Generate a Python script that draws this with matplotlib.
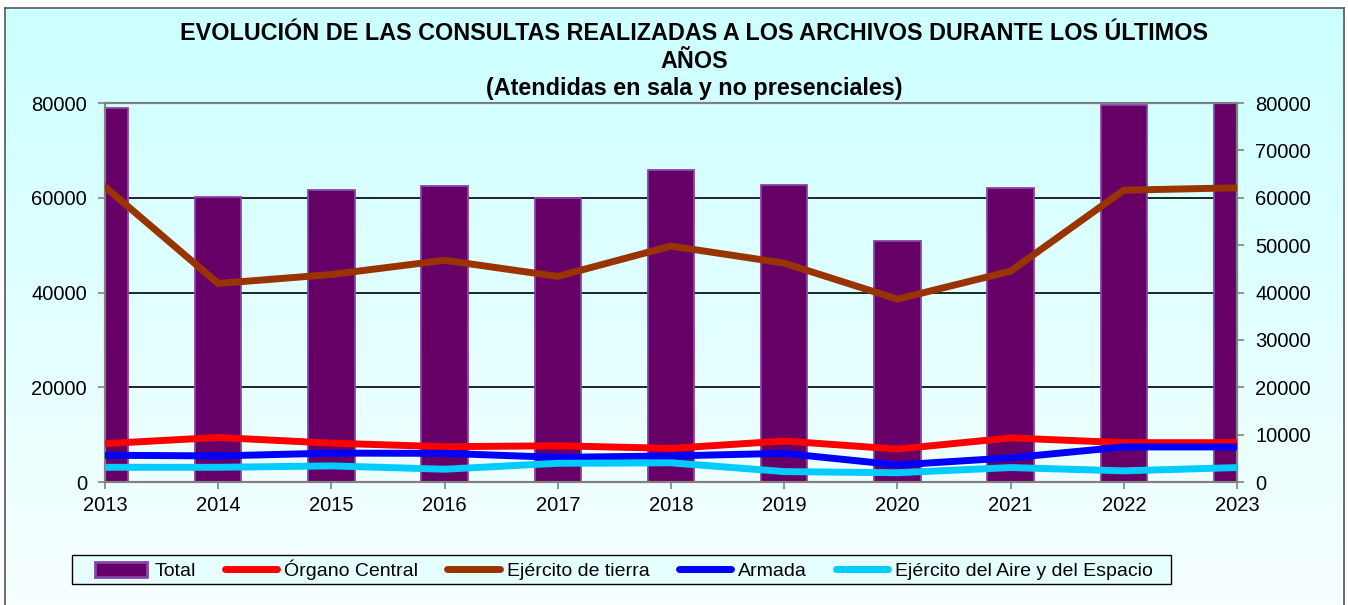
import numpy as np
import matplotlib.pyplot as plt
from matplotlib.patches import Rectangle
from matplotlib.lines import Line2D

plt.rcParams["font.family"] = ["Liberation Sans", "DejaVu Sans"]

years = [2013, 2014, 2015, 2016, 2017, 2018, 2019, 2020, 2021, 2022, 2023]
total = [79000, 60200, 61600, 62400, 60000, 65800, 62700, 50900, 62000, 79500, 86000]
organo_central = [8100, 9400, 8200, 7450, 7650, 7100, 8650, 6950, 9300, 8300, 8300]
ejercito_tierra = [62300, 41900, 43800, 46800, 43400, 49800, 46200, 38600, 44500, 61600, 62100]
armada = [5650, 5500, 6100, 6050, 5200, 5500, 6050, 3600, 5100, 7400, 7400]
ejercito_aire = [3100, 3100, 3400, 2700, 3950, 4050, 2200, 1950, 3050, 2350, 3050]

title = ("EVOLUCIÓN DE LAS CONSULTAS REALIZADAS A LOS ARCHIVOS DURANTE LOS ÚLTIMOS\n"
         "AÑOS\n(Atendidas en sala y no presenciales)")

W, H = 1348, 605
fig = plt.figure(figsize=(W / 100, H / 100), dpi=100)
fig.patch.set_facecolor("white")

# chart area with vertical gradient and gray frame
bg = fig.add_axes([5 / W, 0, (1344 - 5) / W, 1 - 8 / H], zorder=-10)
grad = np.linspace(0, 1, 256).reshape(-1, 1)
top_c = np.array([0.80, 1.0, 1.0])
bot_c = np.array([0.97, 1.0, 1.0])
img = top_c + (bot_c - top_c) * grad[..., None]
bg.imshow(img, aspect="auto", extent=[0, 1, 0, 1], origin="upper")
bg.set_xticks([])
bg.set_yticks([])
for s in bg.spines.values():
    s.set_color("#555555")
    s.set_linewidth(1.2)
bg.spines["bottom"].set_visible(False)

ax = fig.add_axes([105 / W, 1 - 482 / H, 1132 / W, 379 / H])
ax.patch.set_alpha(0)
ax.bar(years, total, width=0.41, color="#660066", edgecolor="#8844AA",
       linewidth=1.3, zorder=2)
ax.set_xlim(2013, 2023)
ax.set_ylim(0, 80000)
ax.set_yticks([0, 20000, 40000, 60000, 80000])
ax.set_xticks(years)
ax.yaxis.grid(True, color="black", linewidth=1.2)
ax.set_axisbelow(True)
for s in ax.spines.values():
    s.set_color("#808080")
    s.set_linewidth(1.5)
ax.tick_params(axis="both", colors="#808080", labelcolor="black",
               labelsize=14.5, length=5, width=1.2, direction="out")
ax.tick_params(axis="y", pad=8)
ax.tick_params(axis="x", pad=5)

ax2 = ax.twinx()
ax2.patch.set_visible(False)
lw = 5
ax2.plot(years, organo_central, color="#FF0000", lw=lw, zorder=3)
ax2.plot(years, ejercito_tierra, color="#993300", lw=lw, zorder=3)
ax2.plot(years, armada, color="#0000FF", lw=lw, zorder=3)
ax2.plot(years, ejercito_aire, color="#00CCFF", lw=lw, zorder=3)
ax2.set_ylim(0, 80000)
ax2.set_yticks(range(0, 80001, 10000))
for s in ax2.spines.values():
    s.set_color("#808080")
    s.set_linewidth(1.5)
ax2.tick_params(axis="y", colors="#808080", labelcolor="black",
                labelsize=14.5, length=5, width=1.2, pad=8)

fig.text(694 / W, 1 - 22 / H, title, ha="center", va="top",
         fontsize=16.8, fontweight="bold", linespacing=1.26)

# legend box
fig.patches.append(Rectangle((72 / W, 1 - 584 / H), (1171 - 72) / W, 29 / H,
                             transform=fig.transFigure, facecolor="#E6FFFF",
                             edgecolor="black", linewidth=1.0, zorder=1))

handles = [
    Rectangle((0, 0), 1, 1, facecolor="#660066", edgecolor="#8844AA", linewidth=2),
    Line2D([], [], color="#FF0000", lw=lw, solid_capstyle="round"),
    Line2D([], [], color="#993300", lw=lw, solid_capstyle="round"),
    Line2D([], [], color="#0000FF", lw=lw, solid_capstyle="round"),
    Line2D([], [], color="#00CCFF", lw=lw, solid_capstyle="round"),
]
labels = ["Total", "Órgano Central", "Ejército de tierra", "Armada",
          "Ejército del Aire y del Espacio"]
leg = fig.legend(handles, labels, ncol=5, loc="center",
                 bbox_to_anchor=(624 / W, 1 - 570 / H), fontsize=14,
                 frameon=False, handlelength=2.7,
                 handletextpad=0.35, columnspacing=1.5, borderpad=0.25,
                 handleheight=0.8)

fig.savefig("out.png", dpi=100)
